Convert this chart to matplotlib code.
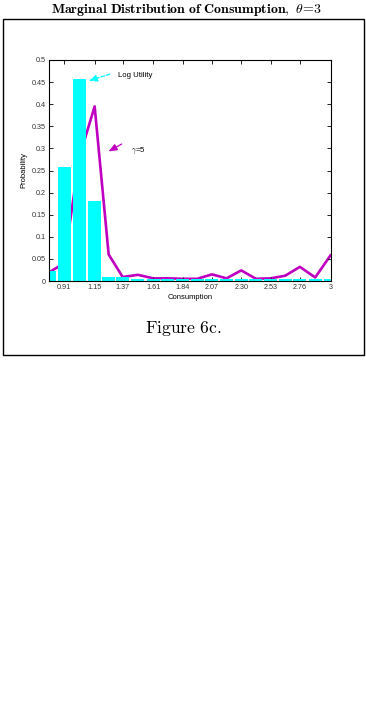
import matplotlib
matplotlib.use("Agg")
import matplotlib.pyplot as plt
from matplotlib.patches import Rectangle

plt.rcParams['mathtext.fontset'] = 'cm'

# Data
centers = [0.795, 0.91, 1.03, 1.15, 1.26, 1.37, 1.49, 1.61, 1.725, 1.84,
           1.955, 2.07, 2.185, 2.30, 2.415, 2.53, 2.645, 2.76, 2.88, 3.0]
log_utility = [0.022, 0.258, 0.458, 0.181, 0.010, 0.010, 0.005, 0.005, 0.005, 0.005,
               0.004, 0.004, 0.004, 0.004, 0.004, 0.004, 0.004, 0.004, 0.004, 0.004]
gamma5 = [0.02, 0.04, 0.28, 0.395, 0.06, 0.009, 0.014, 0.006, 0.006, 0.005,
          0.005, 0.015, 0.006, 0.024, 0.005, 0.006, 0.012, 0.032, 0.008, 0.058]
xticks = [0.91, 1.15, 1.37, 1.61, 1.84, 2.07, 2.30, 2.53, 2.76, 3.0]
xticklabels = ['0.91', '1.15', '1.37', '1.61', '1.84', '2.07', '2.30', '2.53', '2.76', '3']
yticks = [0, 0.05, 0.1, 0.15, 0.2, 0.25, 0.3, 0.35, 0.4, 0.45, 0.5]
yticklabels = ['0', '0.05', '0.1', '0.15', '0.2', '0.25', '0.3', '0.35', '0.4', '0.45', '0.5']

W, H = 366, 711
fig = plt.figure(figsize=(W/100, H/100), dpi=100)

# outer frame
fig.patches.append(Rectangle((3/W, 1-355/H), 360.5/W, (355-18.5)/H,
                             transform=fig.transFigure, fill=False,
                             edgecolor='black', linewidth=1.0))

ax = fig.add_axes([49/W, 1-281/H, 281.5/W, 221/H])
magenta = '#c000c0'
cyan = '#00ffff'
ax.plot(centers, gamma5, color=magenta, linewidth=1.9, zorder=1)
ax.bar(centers, log_utility, width=0.102, color=cyan, edgecolor='none', zorder=2)

ax.set_xlim(0.792, 3.0)
ax.set_ylim(0, 0.5)
ax.set_xticks(xticks)
ax.set_xticklabels(xticklabels)
ax.set_yticks(yticks)
ax.set_yticklabels(yticklabels)
ax.tick_params(direction='in', length=3, width=0.6, top=True, right=True,
               labelsize=5.2, pad=2.5, colors='black')
for lab in ax.get_xticklabels() + ax.get_yticklabels():
    lab.set_family('Liberation Sans')
    lab.set_color('#333333')
for s in ax.spines.values():
    s.set_linewidth(0.8)

ax.set_xlabel('Consumption', fontsize=5.5, family='Liberation Sans', labelpad=2)
ax.set_ylabel('Probability', fontsize=5.5, family='Liberation Sans', labelpad=3)

ax.annotate('', xy=(1.083, 0.451), xytext=(1.29, 0.47),
            arrowprops=dict(arrowstyle='-|>,head_length=0.5,head_width=0.2',
                            color=cyan, lw=0.9, linestyle=(0, (3, 1.5))), zorder=3)
ax.text(1.332, 0.466, 'Log Utility', fontsize=5.6, family='Liberation Sans',
        va='center', ha='left', zorder=3)
ax.annotate('', xy=(1.24, 0.29), xytext=(1.381, 0.313),
            arrowprops=dict(arrowstyle='-|>,head_length=0.5,head_width=0.2',
                            color=magenta, lw=0.9), zorder=3)
ax.text(1.436, 0.296, r'$\gamma$=5', fontsize=5.6, family='Liberation Sans',
        va='center', ha='left', zorder=3)

fig.text(186/W, 1-9.5/H,
         r'$\mathbf{Marginal\ Distribution\ of\ Consumption,}\ \theta\!\mathbf{=}\!\mathbf{3}$',
         fontsize=10, ha='center', va='center')
fig.text(183/W, 1-328/H, r'$\mathrm{Figure\ 6c.}$', fontsize=12.7,
         ha='center', va='center')

fig.savefig('out.png', dpi=100)
